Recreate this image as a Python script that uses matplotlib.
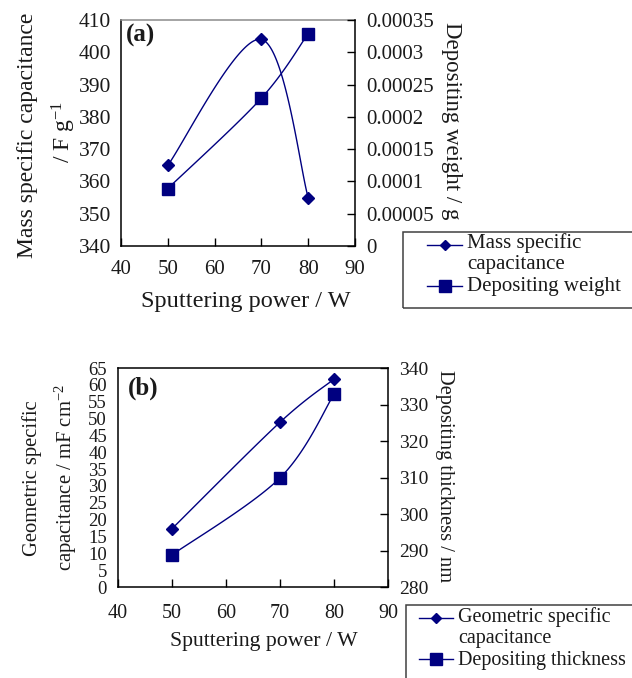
import numpy as np
import matplotlib
matplotlib.use('Agg')
import matplotlib.pyplot as plt
from matplotlib.patches import Rectangle
from matplotlib.lines import Line2D

# ---------------- data ----------------
power = [50, 70, 80]
mass_cap = [365, 404, 355]
dep_weight = [0.000089, 0.000229, 0.000329]
geo_cap = [17.3, 48.9, 61.7]
dep_thick = [288.8, 309.9, 332.8]

x_ticks = [40, 50, 60, 70, 80, 90]
mass_ticks = [340, 350, 360, 370, 380, 390, 400, 410]
weight_ticks = [0, 0.00005, 0.0001, 0.00015, 0.0002, 0.00025, 0.0003, 0.00035]
weight_labels = ['0', '0.00005', '0.0001', '0.00015', '0.0002', '0.00025', '0.0003', '0.00035']
geo_ticks = [0, 5, 10, 15, 20, 25, 30, 35, 40, 45, 50, 55, 60, 65]
thick_ticks = [280, 290, 300, 310, 320, 330, 340]

# ---------------- style ----------------
plt.rcParams['font.family'] = ['Liberation Serif', 'DejaVu Serif']
plt.rcParams['mathtext.fontset'] = 'custom'
plt.rcParams['mathtext.rm'] = 'Liberation Serif'
plt.rcParams['mathtext.it'] = 'Liberation Serif:italic'
plt.rcParams['mathtext.bf'] = 'Liberation Serif:bold'
COLOR = '#000080'
TXT = '#1a1a1a'

W, H = 632, 678
fig = plt.figure(figsize=(W / 100, H / 100), dpi=100)


def px(x, y):
    return x / W, 1 - y / H


def smooth(ax, xs, ys, n=60):
    pts = ax.transData.transform(np.column_stack([xs, ys]))
    P = np.vstack([pts[0], pts, pts[-1]])
    out = []
    t = np.linspace(0, 1, n)[:, None]
    for i in range(1, len(P) - 2):
        p0, p1, p2, p3 = P[i - 1], P[i], P[i + 1], P[i + 2]
        c1 = p1 + (p2 - p0) / 6
        c2 = p2 - (p3 - p1) / 6
        seg = (1 - t) ** 3 * p1 + 3 * t * (1 - t) ** 2 * c1 + 3 * t ** 2 * (1 - t) * c2 + t ** 3 * p2
        out.append(seg if i == 1 else seg[1:])
    out = np.vstack(out)
    d = ax.transData.inverted().transform(out)
    return d[:, 0], d[:, 1]


def style_axes(ax, tick_fs_x, tick_fs_y, padx, pady):
    ax.tick_params(axis='x', direction='in', length=6, width=1, labelsize=tick_fs_x,
                   pad=padx, colors='black', labelcolor=TXT)
    ax.tick_params(axis='y', direction='in', length=0, width=1, labelsize=tick_fs_y,
                   pad=pady, labelcolor=TXT)
    for s in ax.spines.values():
        s.set_linewidth(1.1)


# ================= panel (a) =================
ax1 = fig.add_axes([121 / W, 1 - 246 / H, (355 - 121) / W, (246 - 20) / H])
ax1.set_xlim(40, 90)
ax1.set_ylim(340, 410)
ax1.set_xticks(x_ticks)
ax1.set_yticks(mass_ticks)
style_axes(ax1, 15, 15.5, 10, 7)
ax1.spines['top'].set_color('#8c8c8c')
ax1.spines['right'].set_visible(False)

ax1b = ax1.twinx()
ax1b.set_ylim(0, 0.00035)
ax1b.set_yticks(weight_ticks)
ax1b.set_yticklabels(weight_labels)
ax1b.tick_params(axis='y', direction='in', length=6, width=1, labelsize=15, pad=8, labelcolor=TXT)
for s in ['left', 'top', 'bottom']:
    ax1b.spines[s].set_visible(False)
ax1b.spines['right'].set_linewidth(1.1)

sx, sy = smooth(ax1, power, mass_cap)
ax1.plot(sx, sy, color=COLOR, lw=1.0, zorder=3)
ax1.plot(power, mass_cap, ls='none', marker='D', ms=6, color=COLOR, zorder=4)
sx, sy = smooth(ax1b, power, dep_weight)
ax1b.plot(sx, sy, color=COLOR, lw=1.0, zorder=3)
ax1b.plot(power, dep_weight, ls='none', marker='s', ms=8.5, color=COLOR, zorder=4)

ax1.text(*px(126, 35), '(a)', transform=fig.transFigure, fontsize=18, fontweight='bold',
         ha='left', va='center', color=TXT)

fig.text(*px(246, 307), 'Sputtering power / W', fontsize=17.5, ha='center', va='baseline', color=TXT)
fig.text(*px(33, 135), 'Mass specific capacitance', fontsize=17, rotation=90,
         rotation_mode='anchor', ha='center', va='baseline', color=TXT)
fig.text(*px(70, 132), r'/ F g$^{\mathregular{-1}}$', fontsize=17, rotation=90,
         rotation_mode='anchor', ha='center', va='baseline', color=TXT)
fig.text(*px(446, 121), 'Depositing weight / g', fontsize=16.5, rotation=270,
         rotation_mode='anchor', ha='center', va='baseline', color=TXT)

# legend (a)
fig.patches.append(Rectangle(px(403, 308), 0.5, (308 - 231.7) / H, transform=fig.transFigure,
                             fill=False, edgecolor='#404040', lw=1.1))
for (yy, mk, ms) in [(245, 'D', 5.5), (286, 's', 8.5)]:
    fig.lines.append(Line2D([427 / W, 462 / W], [1 - yy / H] * 2, transform=fig.transFigure,
                            color=COLOR, lw=1.0))
    fig.lines.append(Line2D([444.5 / W], [1 - yy / H], transform=fig.transFigure,
                            color=COLOR, marker=mk, ms=ms, ls='none'))
fig.text(*px(467, 243), 'Mass specific', fontsize=15, ha='left', va='center', color=TXT)
fig.text(*px(467, 265), 'capacitance', fontsize=15, ha='left', va='center', color=TXT)
fig.text(*px(467, 286), 'Depositing weight', fontsize=15, ha='left', va='center', color=TXT)

# ================= panel (b) =================
ax2 = fig.add_axes([118 / W, 1 - 587 / H, (388 - 118) / W, (587 - 368) / H])
ax2.set_xlim(40, 90)
ax2.set_ylim(0, 65)
ax2.set_xticks(x_ticks)
ax2.set_yticks(geo_ticks)
style_axes(ax2, 14.5, 13.5, 12, 8)
ax2.spines['right'].set_visible(False)

ax2b = ax2.twinx()
ax2b.set_ylim(280, 340)
ax2b.set_yticks(thick_ticks)
ax2b.tick_params(axis='y', direction='in', length=6, width=1, labelsize=14, pad=8, labelcolor=TXT)
for s in ['left', 'top', 'bottom']:
    ax2b.spines[s].set_visible(False)
ax2b.spines['right'].set_linewidth(1.1)

sx, sy = smooth(ax2, power, geo_cap)
ax2.plot(sx, sy, color=COLOR, lw=1.0, zorder=3)
ax2.plot(power, geo_cap, ls='none', marker='D', ms=6, color=COLOR, zorder=4)
sx, sy = smooth(ax2b, power, dep_thick)
ax2b.plot(sx, sy, color=COLOR, lw=1.0, zorder=3)
ax2b.plot(power, dep_thick, ls='none', marker='s', ms=8.5, color=COLOR, zorder=4)

fig.text(*px(128, 388), '(b)', fontsize=18, fontweight='bold', ha='left', va='center', color=TXT)

fig.text(*px(264, 646), 'Sputtering power / W', fontsize=15.7, ha='center', va='baseline', color=TXT)
fig.text(*px(37, 478), 'Geometric specific', fontsize=14.9, rotation=90,
         rotation_mode='anchor', ha='center', va='baseline', color=TXT)
fig.text(*px(72, 478), r'capacitance / mF cm$^{\mathregular{-2}}$', fontsize=14.9, rotation=90,
         rotation_mode='anchor', ha='center', va='baseline', color=TXT)
fig.text(*px(440, 476), 'Depositing thickness / nm', fontsize=14.7, rotation=270,
         rotation_mode='anchor', ha='center', va='baseline', color=TXT)

# legend (b)
fig.patches.append(Rectangle(px(405.7, 700), 0.5, (700 - 605) / H, transform=fig.transFigure,
                             fill=False, edgecolor='#404040', lw=1.1))
for (yy, mk, ms) in [(618, 'D', 5.5), (659, 's', 8.5)]:
    fig.lines.append(Line2D([419 / W, 453 / W], [1 - yy / H] * 2, transform=fig.transFigure,
                            color=COLOR, lw=1.0))
    fig.lines.append(Line2D([436 / W], [1 - yy / H], transform=fig.transFigure,
                            color=COLOR, marker=mk, ms=ms, ls='none'))
fig.text(*px(458, 617), 'Geometric specific', fontsize=14.5, ha='left', va='center', color=TXT)
fig.text(*px(458, 638), 'capacitance', fontsize=14.5, ha='left', va='center', color=TXT)
fig.text(*px(458, 660), 'Depositing thickness', fontsize=14.5, ha='left', va='center', color=TXT)

fig.savefig('out.png', dpi=100)
